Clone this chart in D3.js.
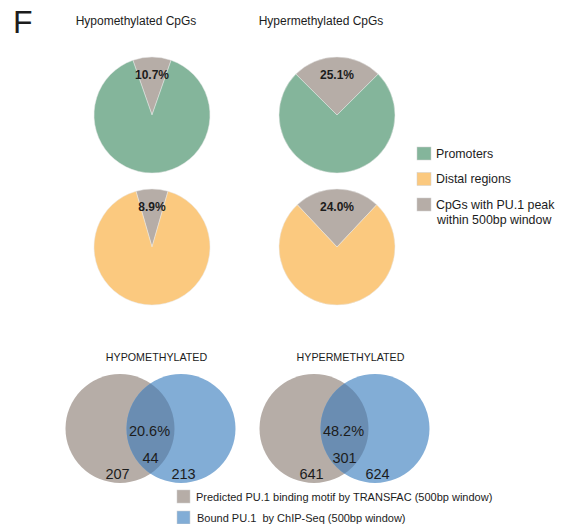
<!DOCTYPE html>
<html>
<head>
<meta charset="utf-8">
<script src="https://cdn.jsdelivr.net/npm/d3@7"></script>
<style>
  html, body { margin: 0; padding: 0; background: #fff; }
  svg { display: block; font-family: "Liberation Sans", Arial, Helvetica, sans-serif; }
  text { white-space: pre; }
</style>
</head>
<body>
<svg id="chart" width="566" height="524"></svg>
<script>
// ---- data ----
const pieTitles = ["Hypomethylated CpGs", "Hypermethylated CpGs"];
const regionTypes = ["Promoters", "Distal regions"];
const promoterPU1Pct = [10.7, 25.1];   // % of promoter CpGs with a PU.1 peak
const distalPU1Pct = [8.9, 24.0];      // % of distal CpGs with a PU.1 peak
const pieLegendLabels = ["Promoters", "Distal regions", "CpGs with PU.1 peak", "within 500bp window"];

const vennTitles = ["HYPOMETHYLATED", "HYPERMETHYLATED"];
const motifOnly = [207, 641];
const bothSets = [44, 301];
const chipOnly = [213, 624];
const overlapPct = [20.6, 48.2];
const vennLegendLabels = [
  "Predicted PU.1 binding motif by TRANSFAC (500bp window)",
  "Bound PU.1  by ChIP-Seq (500bp window)"
];

// ---- styling ----
const colors = {
  promoter: "#84B59B",
  distal: "#FBC97F",
  pu1: "#B6ADA7",
  motif: "#B6ADA7",
  chip: "#82ADD6",
  both: "#6A8DB2",
  text: "#1c1c1c"
};

const svg = d3.select("#chart");

// Panel letter
svg.append("text").attr("x", 13).attr("y", 33)
  .attr("font-size", 32).attr("fill", colors.text).text("F");

// ---- pie charts ----
const colX = d3.scalePoint().domain(d3.range(pieTitles.length)).range([152, 337]);
const rowY = d3.scalePoint().domain(d3.range(regionTypes.length)).range([115, 247]);
const pieR = 58;
const arc = d3.arc().innerRadius(0).outerRadius(pieR);
const labelArc = d3.arc().innerRadius(40).outerRadius(40);

pieTitles.forEach((t, i) => {
  svg.append("text").attr("x", colX(i) - 16).attr("y", 25)
    .attr("text-anchor", "middle").attr("font-size", 12).attr("fill", colors.text).text(t);
});

const pieRows = [
  { values: promoterPU1Pct, color: colors.promoter },
  { values: distalPU1Pct, color: colors.distal }
];

pieRows.forEach((row, r) => {
  row.values.forEach((pct, c) => {
    const half = (pct / 100) * Math.PI;  // PU.1 slice is centred at 12 o'clock
    const pie = d3.pie().sort(null).value(d => d.v)
      .startAngle(-half).endAngle(2 * Math.PI - half);
    const slices = pie([{ v: pct, color: colors.pu1 }, { v: 100 - pct, color: row.color }]);
    const g = svg.append("g").attr("transform", `translate(${colX(c)},${rowY(r)})`);
    g.selectAll("path").data(slices).join("path")
      .attr("d", arc).attr("fill", d => d.data.color)
      .attr("stroke", "#e8e8e8").attr("stroke-width", 0.5);
    const [lx, ly] = labelArc.centroid(slices[0]);
    g.append("text").attr("x", lx).attr("y", ly).attr("dy", "0.3em")
      .attr("text-anchor", "middle").attr("font-size", 12).attr("font-weight", "bold")
      .attr("fill", colors.text).text(d3.format(".1f")(pct) + "%");
  });
});

// pie legend
const pieLegend = [
  { color: colors.promoter, lines: [pieLegendLabels[0]] },
  { color: colors.distal, lines: [pieLegendLabels[1]] },
  { color: colors.pu1, lines: [pieLegendLabels[2], pieLegendLabels[3]] }
];
const legY = d3.scalePoint().domain(d3.range(pieLegend.length)).range([147, 198]);
pieLegend.forEach((item, i) => {
  svg.append("rect").attr("x", 417).attr("y", legY(i)).attr("width", 14).attr("height", 13)
    .attr("fill", item.color).attr("stroke", "#d0d0d0").attr("stroke-width", 0.5);
  item.lines.forEach((ln, j) => {
    svg.append("text").attr("x", 436 + (j ? 1 : 0)).attr("y", legY(i) + 10.5 + j * 15)
      .attr("font-size", 12.4).attr("fill", colors.text).text(ln);
  });
});

// ---- Venn diagrams ----
const vennX = d3.scalePoint().domain(d3.range(vennTitles.length)).range([150.5, 344.5]);
const vennY = 428.5;
const vennR = 54.5;
const halfGap = 30.5;

vennTitles.forEach((t, i) => {
  const cx = vennX(i);
  svg.append("text").attr("x", cx + 6).attr("y", 361)
    .attr("text-anchor", "middle").attr("font-size", 10.7).attr("fill", colors.text).text(t);

  const g = svg.append("g");
  const clipId = "clipLeft" + i;
  svg.append("clipPath").attr("id", clipId)
    .append("circle").attr("cx", cx - halfGap).attr("cy", vennY).attr("r", vennR);

  g.append("circle").attr("cx", cx - halfGap).attr("cy", vennY).attr("r", vennR).attr("fill", colors.motif);
  g.append("circle").attr("cx", cx + halfGap).attr("cy", vennY).attr("r", vennR).attr("fill", colors.chip);
  g.append("circle").attr("cx", cx + halfGap).attr("cy", vennY).attr("r", vennR)
    .attr("fill", colors.both).attr("clip-path", `url(#${clipId})`);

  const lab = (x, y, s) => g.append("text").attr("x", x).attr("y", y)
    .attr("text-anchor", "middle").attr("font-size", 14.5).attr("fill", colors.text).text(s);
  lab(cx - 1, 436, d3.format(".1f")(overlapPct[i]) + "%");
  lab(cx, 463, bothSets[i]);
  lab(cx - 33, 479, motifOnly[i]);
  lab(cx + 33, 479, chipOnly[i]);
});

// Venn legend
const vennLegendColors = [colors.motif, colors.chip];
vennLegendLabels.forEach((t, i) => {
  const y = 490 + i * 21;
  svg.append("rect").attr("x", 177).attr("y", y).attr("width", 13).attr("height", 13)
    .attr("fill", vennLegendColors[i]).attr("stroke", "#d0d0d0").attr("stroke-width", 0.5);
  svg.append("text").attr("x", 196 + (i ? 1 : 0)).attr("y", y + 11)
    .attr("font-size", 11).attr("fill", colors.text).text(t);
});
</script>
</body>
</html>
